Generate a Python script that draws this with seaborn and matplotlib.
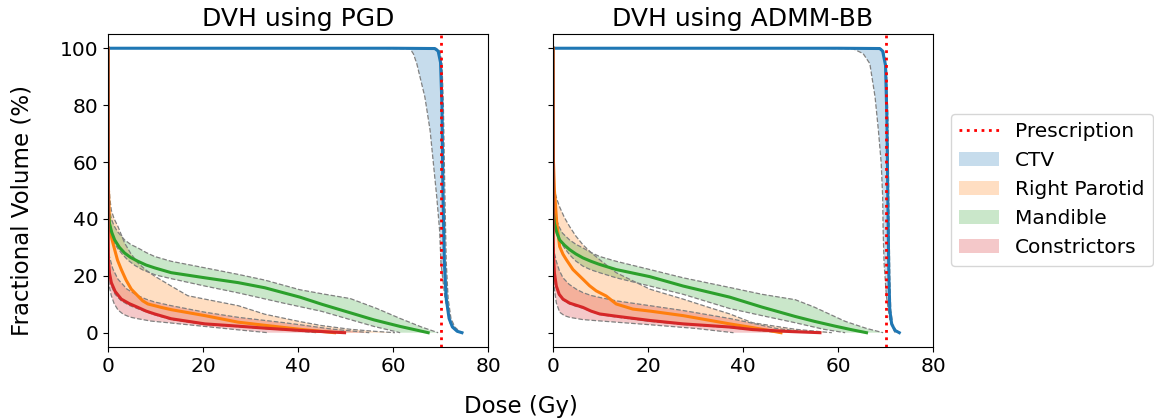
import numpy as np
import pandas as pd
import matplotlib
matplotlib.use("Agg")
import matplotlib.pyplot as plt
import seaborn as sns
from matplotlib.patches import Patch
from matplotlib.lines import Line2D

# ---------------------------------------------------------------------------
# DVH data (dose in Gy, fractional volume in %)
# ---------------------------------------------------------------------------
PRESCRIPTION = 70
STRUCTURES = ["CTV", "Right Parotid", "Mandible", "Constrictors"]
COLORS = {"CTV": "#1f77b4", "Right Parotid": "#ff7f0e",
          "Mandible": "#2ca02c", "Constrictors": "#d62728"}

# ---- PGD ----
pgd_ctv_med_d = [0, 60, 68.8, 69.5, 70.0, 70.3, 70.5, 70.8, 71.2, 71.8, 72.5, 73.5, 74.5]
pgd_ctv_med_v = [100, 100, 99.9, 99, 95, 80, 50, 25, 12, 5, 2, 0.5, 0]
pgd_ctv_up_d = [0, 60, 69.2, 69.8, 70.3, 70.6, 70.9, 71.2, 71.6, 72.2, 73.0, 74.0, 74.8]
pgd_ctv_up_v = [100, 100, 99.9, 99, 95, 80, 50, 25, 12, 5, 2, 0.5, 0]
pgd_ctv_lo_d = [0, 55, 63.6, 64.3, 65.0, 66.7, 67.8, 68.5, 69.2, 69.8, 70.1, 70.9, 72.0, 73.8]
pgd_ctv_lo_v = [100, 100, 99.8, 98, 94.6, 82.9, 71.2, 59.5, 47.8, 36.1, 24.4, 12.7, 3.4, 0]

pgd_par_med_d = [0, 0.05, 0.1, 0.3, 0.8, 1.4, 2.0, 2.8, 3.8, 4.9, 6.3, 7.3, 8.4, 11.2, 13.3,
                 20.4, 27.4, 33, 40.4, 44, 47.7]
pgd_par_med_v = [100, 60, 50, 38.4, 33, 29.2, 25.5, 22.2, 18.5, 15.3, 12.9, 11.2, 10.1, 8.9, 8.1,
                 6.0, 3.7, 2.6, 1.2, 0.6, 0]
pgd_par_up_d = [0, 0.05, 0.1, 0.4, 0.7, 1.3, 2.1, 3.5, 4.8, 6.3, 8.0, 9.8, 13.3, 16.8, 20.4,
                27.4, 33, 40.4, 45, 51, 56, 60.4]
pgd_par_up_v = [100, 60, 55, 47, 43, 40, 37.3, 31.5, 27.8, 24.5, 22, 19.9, 16.4, 13.0, 11.8,
                9.5, 6.5, 3.9, 2.5, 1.2, 0.5, 0]
pgd_par_lo_d = [0, 0.05, 0.1, 0.3, 0.7, 1.5, 2.8, 4.5, 6.3, 9.8, 13.3, 20.4, 27.4, 37.2, 44]
pgd_par_lo_v = [100, 35, 24, 20, 16.5, 13.5, 11.2, 9.6, 8.4, 6.3, 4.6, 2.9, 2.1, 1.0, 0]

pgd_man_med_d = [0, 0.05, 0.1, 0.3, 0.8, 1.4, 2.4, 3.5, 4.8, 6.3, 8, 9.8, 13.3, 20.4, 27.4, 33,
                 40.4, 45, 51, 56, 61.5, 65, 67.4]
pgd_man_med_v = [100, 48, 42, 38.4, 35.2, 32.6, 30, 28, 26.4, 25.1, 23.8, 22.8, 21.1, 19.3, 17.6, 15.8,
                 12.5, 10, 7, 4.5, 2.2, 0.9, 0]
pgd_man_up_d = [0, 0.05, 0.1, 0.7, 1.3, 2, 3.5, 4.8, 6.3, 8, 9.8, 13.3, 20.4, 27.4, 33, 40.4, 45,
                51, 56.6, 61.5, 66, 69.5]
pgd_man_up_v = [100, 50, 45, 40, 37.5, 35.5, 32.6, 31, 29.8, 28.2, 26.8, 25.1, 22.8, 20.5, 18.5, 15.1, 13.7,
                12, 8.5, 5, 2, 0]
pgd_man_lo_d = [0, 0.05, 0.1, 0.7, 1.3, 2.1, 3.1, 4.2, 5.7, 7.4, 10, 13.3, 20.4, 27.4, 37.2, 45,
                51, 56, 61.5]
pgd_man_lo_v = [100, 42, 38, 34, 31.5, 29.5, 27.4, 25.5, 23.6, 22, 20.3, 19, 16.4, 14, 10.3, 7.5,
                4.6, 2.2, 0]

pgd_con_med_d = [0, 0.05, 0.1, 0.3, 0.7, 1.5, 2.8, 4.5, 6.3, 8, 9.8, 13.3, 20.4, 27.4, 33, 40.4,
                 45, 49.8]
pgd_con_med_v = [100, 35, 25, 21, 17.6, 14.5, 11.8, 10.2, 8.9, 7.6, 6.6, 4.9, 3.1, 2.3, 1.6, 0.8,
                 0.4, 0]
pgd_con_up_d = [0, 0.05, 0.1, 0.3, 1.0, 2.1, 4.0, 6.3, 8, 9.8, 13.3, 20.4, 27.4, 37.2, 40.4, 47, 55]
pgd_con_up_v = [100, 35, 30, 26.8, 22.5, 18.8, 15.3, 13, 11.8, 10.8, 9.5, 7.2, 5.4, 3.5, 2.8, 1.3, 0]
pgd_con_lo_d = [0, 0.05, 0.1, 0.3, 0.7, 1.3, 2.1, 3.2, 4.6, 6.3, 9, 13.3, 20.4, 27.4, 33.7]
pgd_con_lo_v = [100, 25, 20, 16, 13, 10.2, 8, 6.5, 5.5, 4.9, 4.1, 3.4, 2.2, 1, 0]

# ---- ADMM-BB ----
adm_ctv_med_d = [0, 60, 68.8, 69.4, 70.0, 70.3, 70.5, 70.7, 70.9, 71.3, 72.0, 72.9]
adm_ctv_med_v = [100, 100, 99.9, 99, 94, 75, 45, 20, 8, 3, 0.8, 0]
adm_ctv_up_d = [0, 60, 69.0, 69.6, 70.2, 70.5, 70.7, 70.9, 71.1, 71.5, 72.2, 73.1]
adm_ctv_up_v = [100, 100, 99.9, 99, 94, 75, 45, 20, 8, 3, 0.8, 0]
adm_ctv_lo_d = [0, 55, 63.2, 65.3, 66.7, 67.8, 68.5, 69.1, 69.4, 69.5, 69.7, 70.2, 70.9, 72.0]
adm_ctv_lo_v = [100, 100, 99.8, 98.1, 94.6, 82.9, 71.2, 59.5, 47.8, 36.1, 24.4, 12.7, 4.5, 0]

adm_par_med_d = [0, 0.05, 0.1, 0.3, 0.8, 1.4, 2.1, 2.8, 4.2, 6.3, 7.7, 9.1, 11.2, 13.3, 16.8, 20.4,
                 27.4, 37.2, 42, 48]
adm_par_med_v = [100, 70, 60, 50, 38.4, 30.3, 27.6, 25.7, 22.2, 18.8, 16.5, 14.7, 12.9, 10.1, 8.3, 7.6,
                 6.0, 3.1, 1.8, 0]
adm_par_up_d = [0, 0.05, 0.1, 0.3, 0.8, 1.4, 2.4, 3.5, 4.8, 6.3, 8, 9.8, 13.3, 20.4, 27.4, 33, 37.2,
                42, 51, 58.7]
adm_par_up_v = [100, 60, 55, 50, 47, 44.2, 40.5, 37.3, 34, 30.9, 28.2, 25.7, 21.1, 15.3, 11.8, 8.8, 6.6,
                3.5, 1.2, 0]
adm_par_lo_d = [0, 0.05, 0.1, 0.3, 0.7, 1.3, 2.1, 3.5, 4.8, 6.3, 9.8, 13.3, 20.4, 27.4, 37.2, 47.8]
adm_par_lo_v = [100, 32, 26, 20, 16, 13.2, 11.5, 10.1, 9.3, 8.6, 6.4, 5.5, 4.0, 2.9, 1.8, 0]

adm_man_med_d = [0, 0.05, 0.1, 0.3, 0.8, 1.4, 2.4, 3.5, 4.8, 6.3, 8, 9.8, 13.3, 20.4, 27.4, 37.2, 44,
                 51, 55, 59.4, 63, 66]
adm_man_med_v = [100, 48, 42, 38.4, 35.2, 32.6, 30.8, 29.2, 27.7, 26.3, 25.1, 24, 22.2, 19.7, 16.4, 12.5, 9,
                 5.7, 4, 2.3, 1, 0]
adm_man_up_d = [0, 0.05, 0.1, 0.7, 1.3, 2, 3.5, 4.8, 6.3, 8, 9.8, 13.3, 20.4, 27.4, 37.2, 44, 51, 55,
                61.5, 66, 69.5]
adm_man_up_v = [100, 50, 45, 40, 37.2, 35, 32.6, 31.1, 29.8, 28.2, 26.8, 25.1, 22.2, 19.3, 15.9, 13.5, 11.6, 9,
                4, 1.5, 0]
adm_man_lo_d = [0, 0.05, 0.1, 0.7, 1.4, 2.4, 3.5, 4.8, 6.3, 8, 9.8, 13.3, 20.4, 27.4, 37.2, 44, 51,
                57, 61.5]
adm_man_lo_v = [100, 42, 38, 35, 32.4, 29.8, 27.4, 25.2, 23.4, 22.1, 21.1, 19.3, 16.4, 13.5, 8.5, 6, 3.5,
                1.2, 0]

adm_con_med_d = [0, 0.05, 0.1, 0.3, 0.7, 1.3, 2.1, 3.5, 6.3, 8, 9.8, 13.3, 20.4, 27.4, 37.2, 42, 50, 56.2]
adm_con_med_v = [100, 35, 27, 21, 16.4, 13.5, 11.8, 10.4, 8.9, 7.6, 6.6, 5.8, 4.3, 3.1, 2.0, 1.1, 0.4, 0]
adm_con_up_d = [0, 0.05, 0.1, 0.3, 0.7, 1.3, 2.1, 3.4, 4.9, 6.3, 8, 9.8, 13.3, 20.4, 27.4, 37.2, 40.4,
                47, 55]
adm_con_up_v = [100, 38, 32, 28, 25.1, 22, 19.3, 17, 15.3, 14.1, 13.1, 12.4, 11.2, 9.5, 7.8, 5.0, 3.9,
                1.5, 0]
adm_con_lo_d = [0, 0.05, 0.1, 0.3, 0.7, 1.4, 2.4, 3.5, 6.3, 13.3, 20.4, 30, 38]
adm_con_lo_v = [100, 24, 20, 15.3, 10.5, 7.2, 6.0, 5.4, 4.6, 3.7, 2.8, 1.5, 0]

PANELS = {
    "PGD": {
        "CTV": (pgd_ctv_med_d, pgd_ctv_med_v, pgd_ctv_lo_d, pgd_ctv_lo_v, pgd_ctv_up_d, pgd_ctv_up_v),
        "Right Parotid": (pgd_par_med_d, pgd_par_med_v, pgd_par_lo_d, pgd_par_lo_v, pgd_par_up_d, pgd_par_up_v),
        "Mandible": (pgd_man_med_d, pgd_man_med_v, pgd_man_lo_d, pgd_man_lo_v, pgd_man_up_d, pgd_man_up_v),
        "Constrictors": (pgd_con_med_d, pgd_con_med_v, pgd_con_lo_d, pgd_con_lo_v, pgd_con_up_d, pgd_con_up_v),
    },
    "ADMM-BB": {
        "CTV": (adm_ctv_med_d, adm_ctv_med_v, adm_ctv_lo_d, adm_ctv_lo_v, adm_ctv_up_d, adm_ctv_up_v),
        "Right Parotid": (adm_par_med_d, adm_par_med_v, adm_par_lo_d, adm_par_lo_v, adm_par_up_d, adm_par_up_v),
        "Mandible": (adm_man_med_d, adm_man_med_v, adm_man_lo_d, adm_man_lo_v, adm_man_up_d, adm_man_up_v),
        "Constrictors": (adm_con_med_d, adm_con_med_v, adm_con_lo_d, adm_con_lo_v, adm_con_up_d, adm_con_up_v),
    },
}


def draw_panel(ax, method):
    curves = PANELS[method]
    rows = []
    for name in STRUCTURES:
        med_d, med_v, lo_d, lo_v, up_d, up_v = curves[name]
        # shaded band between lower and upper DVH bounds
        poly_x = list(up_d) + list(lo_d)[::-1]
        poly_y = list(up_v) + list(lo_v)[::-1]
        ax.fill(poly_x, poly_y, color=COLORS[name], alpha=0.25, lw=0)
        ax.plot(lo_d, lo_v, ls="--", color="gray", lw=0.9)
        ax.plot(up_d, up_v, ls="--", color="gray", lw=0.9)
        for d, v in zip(med_d, med_v):
            rows.append({"dose": d, "volume": v, "structure": name})
    df = pd.DataFrame(rows)
    sns.lineplot(data=df, x="dose", y="volume", hue="structure",
                 palette=COLORS, estimator=None, sort=False, lw=2.2,
                 legend=False, ax=ax)
    ax.axvline(PRESCRIPTION, color="red", ls=":", lw=2)
    ax.set_xlim(0, 80)
    ax.set_xticks([0, 20, 40, 60, 80])
    ax.set_yticks([0, 20, 40, 60, 80, 100])
    ax.set_title(f"DVH using {method}", fontsize=18)
    ax.set_xlabel("")
    ax.set_ylabel("")
    ax.tick_params(labelsize=14.5)


fig = plt.figure(figsize=(11.54, 4.2), dpi=100)
ax1 = fig.add_axes([0.0936, 0.174, 0.3293, 0.745])
ax2 = fig.add_axes([0.4792, 0.174, 0.3293, 0.745], sharey=ax1)

draw_panel(ax1, "PGD")
draw_panel(ax2, "ADMM-BB")
ax2.tick_params(labelleft=False)

fig.text(0.019, 0.5, "Fractional Volume (%)", rotation=90,
         ha="center", va="center", fontsize=16.5)
fig.text(0.451, 0.033, "Dose (Gy)", ha="center", va="center", fontsize=16.5)

handles = [Line2D([0], [0], color="red", ls=":", lw=2, label="Prescription")]
handles += [Patch(facecolor=COLORS[s], alpha=0.25, label=s) for s in STRUCTURES]
fig.legend(handles=handles, loc="center left", bbox_to_anchor=(0.815, 0.548),
           fontsize=14.5, frameon=True)

fig.savefig("out.png", dpi=100)
